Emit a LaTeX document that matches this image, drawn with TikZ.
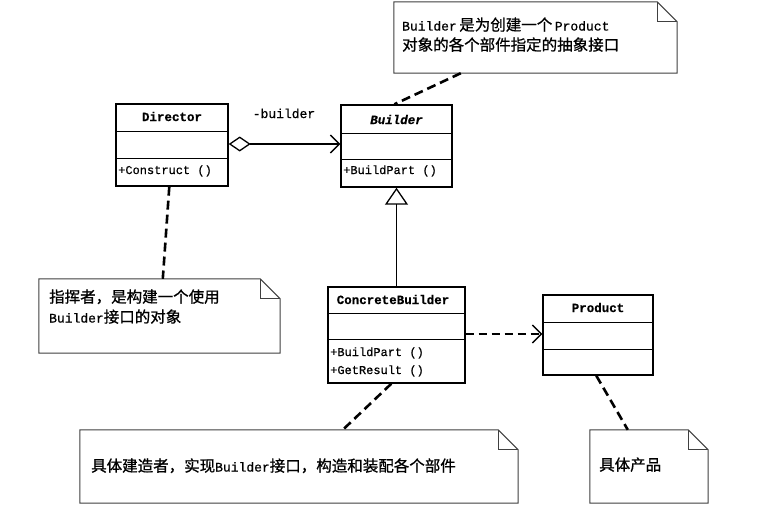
\documentclass[tikz,border=0pt]{standalone}
\usepackage{fontspec}
\setmainfont{Liberation Serif}
\newfontfamily\cjk[FakeBold=0.8]{Noto Sans CJK SC}
\newfontfamily\lmono[FakeBold=0.6]{Liberation Mono}
\usetikzlibrary{arrows.meta,calc}
\newcommand\zh[1]{{\cjk\fontsize{15.5}{20}\selectfont #1}}
\newcommand\en[1]{{\lmono\fontsize{13}{20}\selectfont #1}}
\newcommand\notefold[1]{%
  \draw[noteline] (#1.south west) -- (#1.north west) -- ([xshift=-20pt]#1.north east)
    -- ([yshift=-20pt]#1.north east) -- (#1.south east) -- cycle;
  \draw[noteline] ([xshift=-20pt]#1.north east) |- ([yshift=-20pt]#1.north east);}
\tikzset{
  umlbox/.style={draw, line width=1.4pt, inner sep=0pt},
  divider/.style={line width=1.2pt},
  ttl/.style={font=\lmono\fontsize{12.5}{14}\selectfont\bfseries, anchor=base, inner sep=0pt},
  ttlit/.style={font=\lmono\fontsize{12.5}{14}\selectfont\bfseries\itshape, anchor=base, inner sep=0pt},
  op/.style={font=\lmono\fontsize{12}{14}\selectfont, anchor=base west, inner sep=0pt},
  notebox/.style={inner sep=0pt},
  noteline/.style={draw=black!75, line width=1pt},
  ntext/.style={anchor=base west, inner sep=0pt},
  assoc/.style={line width=1.1pt},
  depend/.style={line width=2.6pt, dash pattern=on 8pt off 5pt},
  notelink/.style={line width=2.6pt, dash pattern=on 9pt off 5pt},
  openv/.style={-{Straight Barb[length=9pt,width=18pt,line width=1.3pt]}}
}
\begin{document}
\begin{tikzpicture}[x=1pt,y=-1pt]
\useasboundingbox[fill=white] (0,0) rectangle (772,523);

% Director
\node[umlbox, minimum width=112pt, minimum height=82pt] (director) at (172,145) {};
\draw[divider] ($(director.north west)+(0,28)$) -- ($(director.north east)+(0,28)$);
\draw[divider] ($(director.north west)+(0,55)$) -- ($(director.north east)+(0,55)$);
\node[ttl] (dirt) at (172,121) {Director};
\node[op] (dirop) at (118,174) {+Construct ()};

% Builder
\node[umlbox, minimum width=111pt, minimum height=82pt] (builder) at (396.5,146) {};
\draw[divider] ($(builder.north west)+(0,29)$) -- ($(builder.north east)+(0,29)$);
\draw[divider] ($(builder.north west)+(0,55)$) -- ($(builder.north east)+(0,55)$);
\node[ttlit] (buit) at (396.5,124) {Builder};
\node[op] (buiop) at (343,174) {+BuildPart ()};

% ConcreteBuilder
\node[umlbox, minimum width=137pt, minimum height=96pt] (concrete) at (396.5,335) {};
\draw[divider] ($(concrete.north west)+(0,27)$) -- ($(concrete.north east)+(0,27)$);
\draw[divider] ($(concrete.north west)+(0,53)$) -- ($(concrete.north east)+(0,53)$);
\node[ttl] (cont) at (393,304) {ConcreteBuilder};
\node[op] (conop1) at (330,356) {+BuildPart ()};
\node[op] (conop2) at (330,374) {+GetResult ()};

% Product
\node[umlbox, minimum width=110pt, minimum height=80pt] (product) at (598,335) {};
\draw[divider] ($(product.north west)+(0,28)$) -- ($(product.north east)+(0,28)$);
\draw[divider] ($(product.north west)+(0,55)$) -- ($(product.north east)+(0,55)$);
\node[ttl] (prot) at (598,312) {Product};

% relations
\coordinate (aggy) at (0,144);
\draw[assoc, {Diamond[open,length=22pt,width=15pt,line width=1.3pt]}-{Straight Barb[length=9pt,width=18pt,line width=1.3pt]}]
  (director.east |- aggy) -- (builder.west |- aggy);
\node[font=\lmono\fontsize{13}{14}\selectfont, anchor=base, inner sep=0pt] (rolelbl) at (284,118) {-builder};
\draw[assoc, -{Triangle[open,length=17pt,width=23pt,line width=1.3pt]}] (concrete.north) -- (builder.south);
\coordinate (depy) at (0,334);
\draw[depend, openv] (concrete.east |- depy) -- (product.west |- depy);

% notes
\node[notebox, minimum width=283pt, minimum height=71pt] (n1) at (535.5,37.5) {};
\notefold{n1}
\node[ntext] (n1a) at (402,30.5) {\en{Builder} \zh{是为创建一个} \en{Product}};
\node[ntext] (n1b) at (402,50.5) {\zh{对象的各个部件指定的抽象接口}};

\node[notebox, minimum width=241pt, minimum height=74pt] (n2) at (159.5,316) {};
\notefold{n2}
\node[ntext] (n2a) at (49,302.5) {\zh{指挥者，是构建一个使用}};
\node[ntext] (n2b) at (49,322.5) {\en{Builder}\zh{接口的对象}};

\node[notebox, minimum width=438pt, minimum height=73pt] (n3) at (299,466.5) {};
\notefold{n3}
\node[ntext] (n3a) at (91,471.5) {\zh{具体建造者，实现}\en{Builder}\zh{接口，构造和装配各个部件}};

\node[notebox, minimum width=118pt, minimum height=73pt] (n4) at (649,466.5) {};
\notefold{n4}
\node[ntext] (n4a) at (599,470.5) {\zh{具体产品}};

% note links
\draw[notelink] ([xshift=67pt]n1.south west) -- ([xshift=54pt]builder.north west);
\draw[notelink] ([xshift=54pt]director.south west) -- ([xshift=124pt]n2.north west);
\draw[notelink] ([xshift=64pt]concrete.south west) -- ([xshift=263pt]n3.north west);
\draw[notelink] ([xshift=54pt]product.south west) -- ([xshift=38pt]n4.north west);
\end{tikzpicture}
\end{document}
